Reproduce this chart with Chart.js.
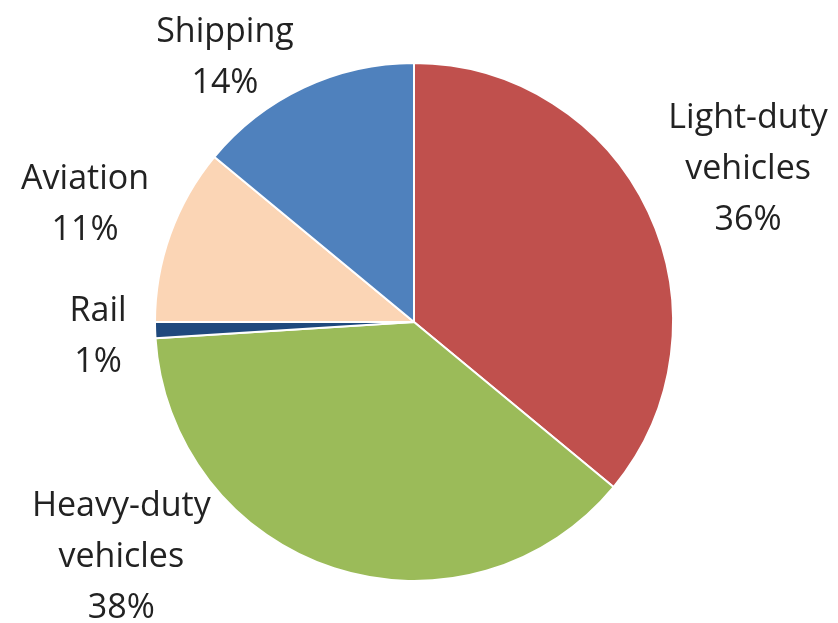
<!DOCTYPE html>
<html>
<head>
<meta charset="utf-8">
<script src="https://cdn.jsdelivr.net/npm/chart.js@4.4.1/dist/chart.umd.min.js"></script>
<style>
  html, body { margin: 0; padding: 0; background: #fff; }
  canvas { display: block; }
</style>
</head>
<body>
<canvas id="chart" width="838" height="623"></canvas>
<script>
// Transport energy use by mode, clockwise from 12 o'clock.
const categories = ["Light-duty vehicles", "Heavy-duty vehicles", "Rail", "Aviation", "Shipping"];
const shares = [36, 38, 1, 11, 14];
const colors = ["#C0504D", "#9BBB59", "#1F497D", "#FBD5B5", "#4F81BD"];

// Label text lines and where each label block sits, in pie radii from the centre.
const labelLines = [
  ["Light-duty", "vehicles"],
  ["Heavy-duty", "vehicles"],
  ["Rail"],
  ["Aviation"],
  ["Shipping"],
];
const labelAnchors = [
  [1.29, -0.60],
  [-1.13, 0.90],
  [-1.22, 0.05],
  [-1.27, -0.46],
  [-0.73, -1.03],
];

const FONT = "34px 'Open Sans', Lato, sans-serif";
const LINE_H = 51;
const CAP_H = 24;

const sliceLabels = {
  id: "sliceLabels",
  afterDatasetsDraw(chart) {
    const { ctx } = chart;
    const arcs = chart.getDatasetMeta(0).data;
    ctx.save();
    ctx.font = FONT;
    ctx.fillStyle = "#222222";
    ctx.textAlign = "center";
    ctx.textBaseline = "alphabetic";
    arcs.forEach((arc, i) => {
      const { x, y, outerRadius } = arc.getProps(["x", "y", "outerRadius"], true);
      const lines = [...labelLines[i], shares[i] + "%"];
      const cx = x + labelAnchors[i][0] * outerRadius;
      const cy = y + labelAnchors[i][1] * outerRadius;
      const first = cy + CAP_H / 2 - ((lines.length - 1) * LINE_H) / 2;
      lines.forEach((t, j) => ctx.fillText(t, cx, first + j * LINE_H));
    });
    ctx.restore();
  },
};

new Chart(document.getElementById("chart"), {
  type: "pie",
  data: {
    labels: categories,
    datasets: [{
      data: shares,
      backgroundColor: colors,
      borderColor: "#ffffff",
      borderWidth: 2,
    }],
  },
  options: {
    responsive: false,
    animation: false,
    events: [],
    layout: { padding: { top: 62, bottom: 41, left: 100, right: 110 } },
    plugins: { legend: { display: false }, tooltip: { enabled: false } },
  },
  plugins: [sliceLabels],
});
</script>
</body>
</html>
